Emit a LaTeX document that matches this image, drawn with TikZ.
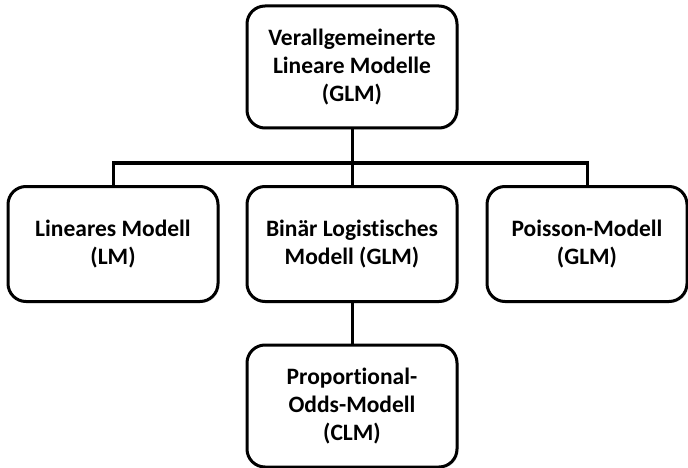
\documentclass[tikz,border=0pt]{standalone}
\usepackage{fontspec}
\setmainfont{Carlito}[Ligatures=NoCommon]
\usepackage{tikz}
\usetikzlibrary{shadows}

\begin{document}
\begin{tikzpicture}[
        x=1pt, y=-1pt,
        model/.style={draw, rounded corners=18pt, line width=3pt, fill=white,
            align=center, inner sep=0pt,
            font=\bfseries\fontsize{23.5}{28}\selectfont,
            drop shadow={opacity=0.25, shadow xshift=1.5pt, shadow yshift=-1.5pt}},
        link/.style={line width=3pt}
    ]
        \useasboundingbox (0,0) rectangle (688,468);

        % Top
        \node[model, minimum width=210pt, minimum height=122pt] (glm) at (352, 67) {Verallgemeinerte\\Lineare Modelle\\(GLM)};

        % Middle row
        \node[model, minimum width=210pt, minimum height=115pt] (lm) at (113, 244) {Lineares Modell\\(LM)};
        \node[model, minimum width=210pt, minimum height=115pt] (logit) at (352, 244) {Binär Logistisches\\Modell (GLM)};
        \node[model, minimum width=200pt, minimum height=115pt] (poisson) at (587, 244) {Poisson-Modell\\(GLM)};

        % Bottom
        \node[model, minimum width=210pt, minimum height=122pt] (clm) at (352, 406) {Proportional-\\Odds-Modell\\(CLM)};

        % Connectors
        \coordinate (hub) at (352, 163);
        \draw[link] (glm.south) -- (logit.north);
        \draw[link] (lm.north) |- (hub) -| (poisson.north);
        \draw[link] (logit.south) -- (clm.north);

    \end{tikzpicture}
\end{document}
